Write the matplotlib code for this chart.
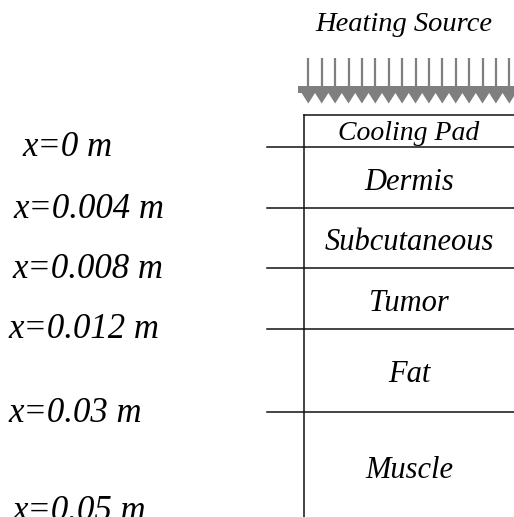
import numpy as np
import matplotlib.pyplot as plt
from matplotlib.patches import Polygon

# data
layers = ["Cooling Pad", "Dermis", "Subcutaneous", "Tumor", "Fat", "Muscle"]
depths = [0, 0.004, 0.008, 0.012, 0.03, 0.05]
depth_labels = ["x=%g m" % d for d in depths]
n_arrows = 16

# layout (pixel units of the schematic)
W, H = 514, 517
box_left, box_top = 304, 115
line_left = 267
boundary_y = [147, 208, 268, 329, 412, 511]
layer_base_y = [139.5, 189.5, 249.5, 311, 382, 478.5]
label_left = [22, 13, 12, 8, 8, 12]

fig = plt.figure(figsize=(W / 100, H / 100), dpi=100)
ax = fig.add_axes([0, 0, 1, 1])
ax.set_xlim(0, W)
ax.set_ylim(H, 0)
ax.axis("off")

font = dict(family="Liberation Serif", style="italic", color="black")
lc = "#111111"

# box outline
ax.plot([box_left, box_left], [box_top, H + 5], color=lc, lw=1.1)
ax.plot([box_left, W + 5], [box_top, box_top], color=lc, lw=1.1)

# boundaries and depth labels
for i, (y, lab) in enumerate(zip(boundary_y, depth_labels)):
    if i < len(boundary_y) - 1:
        ax.plot([line_left, W + 5], [y, y], color=lc, lw=1.1)
    ax.text(label_left[i], y + 9.5, lab, ha="left", va="baseline",
            fontsize=25, **font)

# layer names
for i, (name, yb) in enumerate(zip(layers, layer_base_y)):
    fs = 20 if i == 0 else 22
    ax.text(409, yb, name, ha="center", va="baseline", fontsize=fs, **font)

# heating source arrows
ax.text(404, 30.7, "Heating Source", ha="center", va="baseline", fontsize=20.5, **font)
gray = "#7f7f7f"
xs = 308.3 + 13.4 * np.arange(n_arrows)
for x in xs:
    ax.plot([x, x], [58, 88], color=gray, lw=1.6, solid_capstyle="butt")
pts = [(298, 86), (W + 5, 86), (W + 5, 93)]
zig = []
for x in xs[::-1]:
    zig += [(x + 6.7, 93), (x, 103.5)]
zig.append((xs[0] - 6.7, 93))
pts += zig + [(298, 93)]
ax.add_patch(Polygon(pts, closed=True, facecolor=gray, edgecolor="none"))

fig.savefig("out.png", dpi=100)
